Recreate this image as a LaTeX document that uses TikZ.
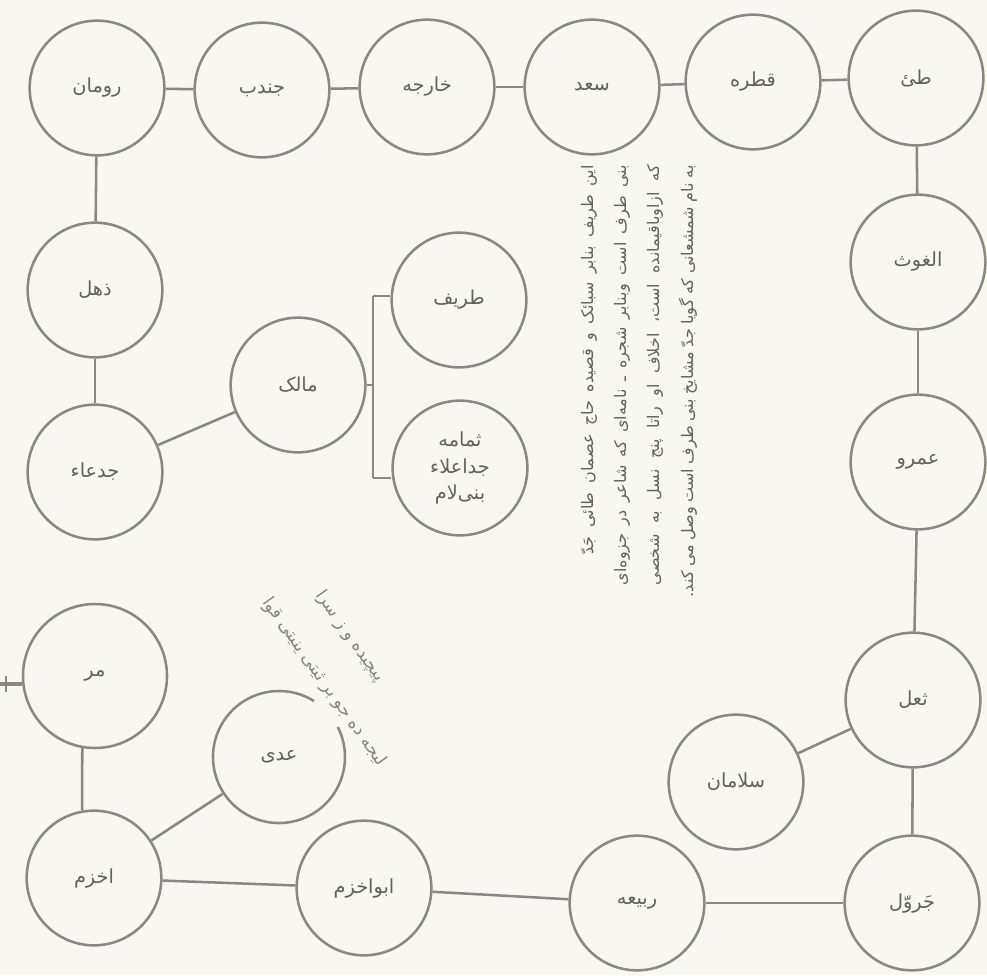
\documentclass[tikz,border=0pt]{standalone}
\usepackage{fontspec}
\TeXXeTstate=1
\newfontfamily\arabicfont[Script=Arabic]{DejaVu Sans}
\definecolor{bgc}{HTML}{F8F7F2}
\definecolor{linec}{HTML}{8A8A7C}
\definecolor{textc}{HTML}{62625A}
\definecolor{handc}{HTML}{86867C}
\begin{document}
\begin{tikzpicture}[x=0.75pt,y=-0.75pt,
  pnode/.style={circle, draw=linec, line width=1.9pt, minimum size=101pt, inner sep=0pt,
    font=\arabicfont\fontsize{14.5}{20}\selectfont, text=textc, align=center},
  link/.style={draw=linec, line width=1.9pt},
  vtext/.style={rotate=90, anchor=east, inner sep=0pt, text=textc,
    font=\arabicfont\fontsize{12}{14}\selectfont},
  htext/.style={rotate=-54.7, inner sep=0pt, text=handc,
    font=\arabicfont\fontsize{13}{15}\selectfont}]
\fill[bgc] (0,0) rectangle (987,975);
\useasboundingbox (0,0) rectangle (987,975);
% top row
\node[pnode] (ruman) at (97,88) {\beginR رومان\endR};
\node[pnode] (jondab) at (262,90) {\beginR جندب\endR};
\node[pnode] (kharjeh) at (427,87) {\beginR خارجه\endR};
\node[pnode] (saad) at (592,87) {\beginR سعد\endR};
\node[pnode] (qatreh) at (753,82) {\beginR قطره\endR};
\node[pnode] (tay) at (916,78) {\beginR طئ\endR};
% left column
\node[pnode] (dhohl) at (95,290) {\beginR ذهل\endR};
\node[pnode] (jadaa) at (95,472) {\beginR جدعاء\endR};
\node[pnode] (malik) at (298,385) {\beginR مالک\endR};
\node[pnode] (tarif) at (459,300) {\beginR طریف\endR};
\node[pnode] (thomameh) at (460,468) {\beginR ثمامه\endR\\\beginR جداعلاء\endR\\\beginR بنی‌لام\endR};
% right column
\node[pnode] (ghoth) at (918,262) {\beginR الغوث\endR};
\node[pnode] (amr) at (918,462) {\beginR عمرو\endR};
\node[pnode] (thoal) at (913,700) {\beginR ثعل\endR};
\node[pnode] (salaman) at (736,782) {\beginR سلامان\endR};
\node[pnode] (jarwal) at (912,903) {\beginR جَروّل\endR};
% bottom row
\node[pnode] (rabia) at (637,903) {\beginR ربیعه\endR};
\node[pnode] (abuakhzam) at (364,888) {\beginR ابواخزم\endR};
\node[pnode] (akhzam) at (94,878) {\beginR اخزم\endR};
\node[pnode, minimum size=108pt] (mar) at (95,676) {\beginR مر\endR};
\node[pnode, draw=none, minimum size=99pt] (adi) at (279,757) {\beginR عدی\endR};
\draw[linec, line width=1.9pt] (adi.center) ++(-58:66) arc[start angle=-58, end angle=-387, radius=66];
% connectors
\draw[link] (ruman) -- (jondab);
\draw[link] (jondab) -- (kharjeh);
\draw[link] (kharjeh) -- (saad);
\draw[link] (saad) -- (qatreh);
\draw[link] (qatreh) -- (tay);
\draw[link] (ruman) -- (dhohl);
\draw[link] (dhohl) -- (jadaa);
\draw[link] (jadaa) -- (malik);
\draw[link] (tay) -- (ghoth);
\draw[link] (ghoth) -- (amr);
\draw[link] (amr) -- (thoal);
\draw[link] (thoal) -- (jarwal);
\draw[link] (thoal) -- (salaman);
\draw[link] (jarwal) -- (rabia);
\draw[link] (rabia) -- (abuakhzam);
\draw[link] (abuakhzam) -- (akhzam);
\draw[link] (akhzam) -- (adi);
\draw[link] (mar.260) -- (akhzam.100);
% bracket
\coordinate (bt) at (373,296);
\coordinate (bb) at (373,478);
\draw[link] (bt) -- (bb);
\draw[link] (malik.east) -- (malik.east -| bt);
\draw[link] (bt) -- (bt -| tarif.west);
\draw[link] (bb) -- (bb -| thomameh.west);
% stub on the left of mar
\coordinate (stub) at (0,684);
\coordinate (ticktop) at (6,676);
\coordinate (tickbot) at (6,692);
\draw[link, line width=2.6pt] (mar.west |- stub) -- (stub);
\draw[link] (ticktop) -- (tickbot);
% vertical note
\node[vtext] (v1) at (589,165) {\makebox[292pt][s]{\beginR این طریف بنابر سبائک و قصیده حاج عصمان طائی جَدّ\endR}};
\node[vtext] (v2) at (622,165) {\makebox[315pt][s]{\beginR بنی طرف است وبنابر شجره ـ نامه‌ای که شاعر در جزوه‌ای\endR}};
\node[vtext] (v3) at (655,165) {\makebox[315pt][s]{\beginR که ازاوباقیمانده است، اخلاف او راتا پنج نسل به شخصی\endR}};
\node[vtext] (v4) at (688,165) {\makebox[324pt][s]{\beginR به نام شمشعانی که گویا جدّ مشایخ بنی طرف است وصل می کند.\endR}};
% handwritten note
\node[htext] (h1) at (324,682) {\beginR لیجه ده جو بر ثیتی ینیتی قوا\endR};
\node[htext] (h2) at (350,636) {\beginR پیچیده و ز سرا\endR};
\end{tikzpicture}
\end{document}
